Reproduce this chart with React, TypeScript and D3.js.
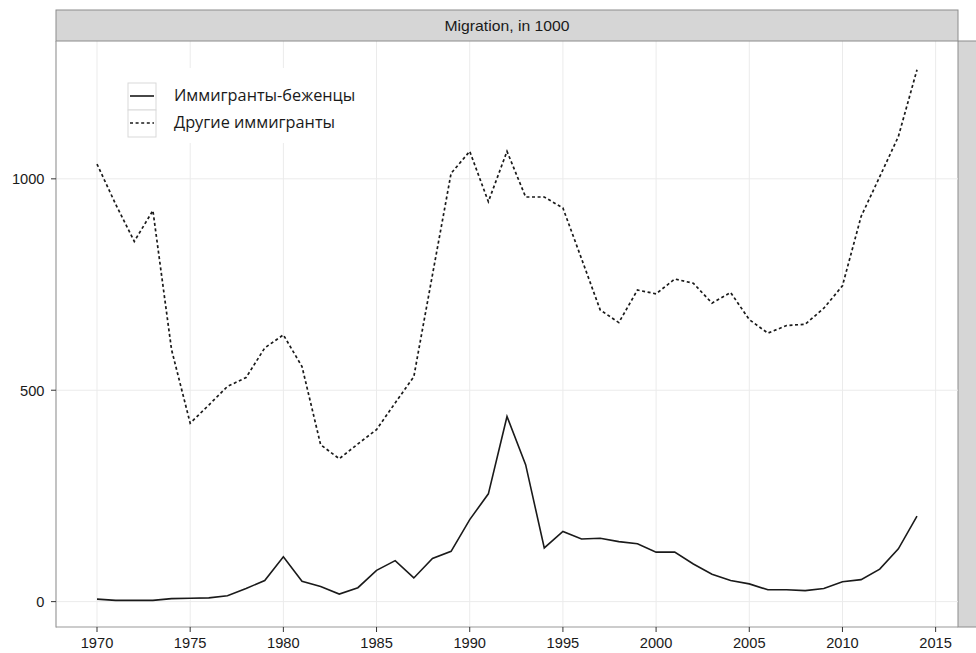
import React, { useEffect, useRef } from 'react';
import * as d3 from 'd3';

const years = d3.range(1970, 2015);

// refugee immigrants, in 1000
const refugees = [
  6, 3, 3, 3, 7, 8, 9, 14, 31, 50,
  106, 48, 36, 18, 33, 74, 97, 56, 102, 119,
  194, 255, 438, 324, 127, 166, 148, 150, 142, 137,
  117, 117, 89, 65, 50, 42, 28, 28, 26, 31,
  47, 52, 77, 125, 202,
];

// other immigrants, in 1000
const others = [
  1035, 940, 852, 925, 596, 422, 465, 509, 530, 600,
  631, 556, 371, 338, 373, 407, 470, 532, 773, 1013,
  1065, 946, 1065, 957, 957, 931, 811, 690, 660, 737,
  728, 763, 753, 706, 731, 667, 635, 653, 656, 694,
  747, 911, 1005, 1100, 1258,
];

const seriesNames = ['Иммигранты-беженцы', 'Другие иммигранты'];
const xTicks = d3.range(1970, 2016, 5);
const yTicks = [0, 500, 1000];
const stripTitle = 'Migration, in 1000';

const App: React.FC = () => {
  const svgRef = useRef<SVGSVGElement>(null);

  useEffect(() => {
    if (!svgRef.current) return;
    const W = 976;
    const H = 653;
    const svg = d3.select(svgRef.current);
    svg.selectAll('*').remove();
    svg.attr('width', W).attr('height', H);

    const panel = { left: 56, right: 958, top: 41, bottom: 627 };
    const axisFont = 'Liberation Sans, Arial, sans-serif';

    const x = d3.scaleLinear()
      .domain([1967.8, 2016.2])
      .range([panel.left, panel.right]);
    const y = d3.scaleLinear()
      .domain([-60, 1326])
      .range([panel.bottom, panel.top]);

    svg.append('rect').attr('width', W).attr('height', H).attr('fill', '#fff');

    // right-hand cut off strip
    svg.append('rect')
      .attr('x', panel.right).attr('y', panel.top)
      .attr('width', W - panel.right + 2).attr('height', panel.bottom - panel.top)
      .attr('fill', '#d6d6d6').attr('stroke', '#8c8c8c').attr('stroke-width', 1);

    // grid
    const grid = svg.append('g');
    grid.selectAll('line.v').data(xTicks).join('line')
      .attr('x1', d => x(d)).attr('x2', d => x(d))
      .attr('y1', panel.top).attr('y2', panel.bottom)
      .attr('stroke', '#ebebeb').attr('stroke-width', 1);
    grid.selectAll('line.h').data(yTicks).join('line')
      .attr('x1', panel.left).attr('x2', panel.right)
      .attr('y1', d => y(d)).attr('y2', d => y(d))
      .attr('stroke', '#ebebeb').attr('stroke-width', 1);

    // top strip
    svg.append('rect')
      .attr('x', panel.left).attr('y', 10)
      .attr('width', panel.right - panel.left).attr('height', panel.top - 10)
      .attr('fill', '#d6d6d6').attr('stroke', '#8c8c8c').attr('stroke-width', 1);
    svg.append('text')
      .attr('x', (panel.left + panel.right) / 2).attr('y', 30.5)
      .attr('text-anchor', 'middle')
      .attr('font-family', axisFont).attr('font-size', 14.5)
      .attr('textLength', 125).attr('lengthAdjust', 'spacingAndGlyphs')
      .attr('fill', '#1a1a1a')
      .text(stripTitle);

    // lines
    const line = d3.line<number>()
      .x((_, i) => x(years[i]))
      .y(d => y(d));

    svg.append('path').datum(others)
      .attr('fill', 'none').attr('stroke', '#1a1a1a')
      .attr('stroke-width', 1.7).attr('stroke-dasharray', '3,2.6')
      .attr('d', line);
    svg.append('path').datum(refugees)
      .attr('fill', 'none').attr('stroke', '#1a1a1a')
      .attr('stroke-width', 1.6)
      .attr('d', line);

    // axes lines
    svg.append('line')
      .attr('x1', panel.left).attr('x2', panel.left)
      .attr('y1', panel.top).attr('y2', panel.bottom + 0.5)
      .attr('stroke', '#9a9a9a').attr('stroke-width', 1.2);
    svg.append('line')
      .attr('x1', panel.left).attr('x2', panel.right)
      .attr('y1', panel.bottom).attr('y2', panel.bottom)
      .attr('stroke', '#9a9a9a').attr('stroke-width', 1.2);

    // y axis ticks
    const yAxis = svg.append('g');
    yAxis.selectAll('line').data(yTicks).join('line')
      .attr('x1', panel.left - 5).attr('x2', panel.left)
      .attr('y1', d => y(d)).attr('y2', d => y(d))
      .attr('stroke', '#333').attr('stroke-width', 1);
    yAxis.selectAll('text').data(yTicks).join('text')
      .attr('x', panel.left - 11.5).attr('y', d => y(d) + 5.5)
      .attr('text-anchor', 'end')
      .attr('font-family', axisFont).attr('font-size', 14)
      .attr('textLength', d => String(d).length * 8.15)
      .attr('lengthAdjust', 'spacingAndGlyphs')
      .attr('fill', '#1a1a1a')
      .text(d => String(d));

    // x axis ticks
    const xAxis = svg.append('g');
    xAxis.selectAll('line').data(xTicks).join('line')
      .attr('x1', d => x(d)).attr('x2', d => x(d))
      .attr('y1', panel.bottom).attr('y2', panel.bottom + 5)
      .attr('stroke', '#333').attr('stroke-width', 1);
    xAxis.selectAll('text').data(xTicks).join('text')
      .attr('x', d => x(d)).attr('y', 648)
      .attr('text-anchor', 'middle')
      .attr('font-family', axisFont).attr('font-size', 14)
      .attr('textLength', 32.6).attr('lengthAdjust', 'spacingAndGlyphs')
      .attr('fill', '#1a1a1a')
      .text(d => String(d));

    // legend
    const lg = svg.append('g');
    lg.append('rect')
      .attr('x', 118).attr('y', 68).attr('width', 250).attr('height', 75)
      .attr('fill', '#fff');
    const dashes = [null, '3,2.6'];
    seriesNames.forEach((name, i) => {
      const ky = 83 + i * 27;
      lg.append('rect')
        .attr('x', 128).attr('y', ky).attr('width', 28).attr('height', 27)
        .attr('fill', '#fff').attr('stroke', '#d9d9d9').attr('stroke-width', 1);
      lg.append('line')
        .attr('x1', 130).attr('x2', 154)
        .attr('y1', ky + 13).attr('y2', ky + 13)
        .attr('stroke', '#1a1a1a').attr('stroke-width', 1.6)
        .attr('stroke-dasharray', dashes[i]);
      lg.append('text')
        .attr('x', 174).attr('y', ky + 18)
        .attr('font-family', 'Open Sans, Noto Sans, sans-serif').attr('font-size', 16.3)
        .attr('fill', '#1a1a1a')
        .text(name);
    });
  }, []);

  return (
    <div style={{ position: 'absolute', left: 0, top: 0 }}>
      <svg ref={svgRef} style={{ display: 'block' }}></svg>
    </div>
  );
};

export default App;
